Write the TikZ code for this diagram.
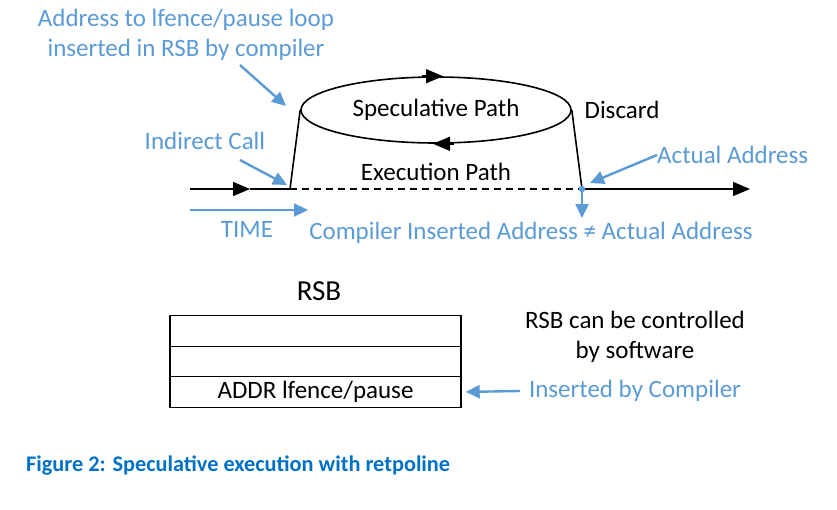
\documentclass[tikz,border=0pt]{standalone}
\usepackage{fontspec}
\setmainfont{Carlito}
\usetikzlibrary{arrows.meta,shapes.geometric}
\definecolor{noteblue}{RGB}{91,155,213}
\definecolor{capblue}{RGB}{0,113,197}
\begin{document}
\begin{tikzpicture}[x=1pt,y=-1pt]
	\tikzstyle{txt}=[font=\fontsize{25}{30}\selectfont,inner sep=0pt]
	\tikzstyle{note}=[txt,text=noteblue]
	\tikzstyle{pointer}=[noteblue,line width=2.4pt,-{Triangle[length=14pt,width=13pt]}]
	\tikzstyle{flow}=[line width=1.6pt]
	\tikzstyle{tip}=[flow,-{Triangle[length=17pt,width=14pt]}]
	\tikzstyle{slot}=[draw,line width=1.4pt,minimum width=291pt,minimum height=30.5pt,inner sep=0pt]
	\useasboundingbox (0,0) rectangle (837,509);
	% time line
	\coordinate (start) at (190,189);
	\coordinate (midarrow) at (250,189);
	\coordinate (call) at (290,189);
	\coordinate (ret) at (582,189);
	\coordinate (finish) at (750,189);
	\node (spec) at (436,110) [ellipse,draw,line width=1.6pt,minimum width=270pt,minimum height=66pt] {};
	\node at (spec.center) [txt] {Speculative Path};
	\draw [tip] (start) -- (midarrow);
	\draw [flow] (midarrow) -- (call);
	\draw [flow] (call) -- (spec.west);
	\draw [flow,dashed,dash pattern=on 7pt off 5pt] (call) -- (ret);
	\draw [flow] (spec.east) -- (ret);
	\draw [tip] (ret) -- (finish);
	\draw [tip] ([xshift=-14pt]spec.north) -- ([xshift=7pt]spec.north);
	\draw [tip] ([xshift=18pt]spec.south) -- ([xshift=-3pt]spec.south);
	\node (exec) at (436,172) [txt] {Execution Path};
	\node (discard) at (622,110) [txt] {Discard};
	% annotations
	\node (addr) at (186,35) [note,align=center] {Address to lfence/pause loop\\inserted in RSB by compiler};
	\coordinate (addrfrom) at (240,65);
	\coordinate (addrto) at (286,106);
	\draw [pointer] (addrfrom) -- (addrto);
	\node (indirect) at (205,141) [note] {Indirect Call};
	\coordinate (indfrom) at (240,160);
	\coordinate (indto) at (287,185);
	\draw [pointer] (indfrom) -- (indto);
	\node (actual) at (657,155) [note,anchor=west] {Actual Address};
	\coordinate (actto) at (590,183);
	\draw [pointer] (actual.west) -- (actto);
	\fill [noteblue] (ret) circle (3.2pt);
	\coordinate (down) at (582,218);
	\draw [pointer] (ret) -- (down);
	\node (neq) at (531,233) [note] {Compiler Inserted Address ≠ Actual Address};
	\coordinate (timefrom) at (190,210);
	\coordinate (timeto) at (308,210);
	\draw [pointer] (timefrom) -- (timeto);
	\node (time) at (247,229) [note] {TIME};
	% RSB
	\node (rsb) at (319,291) [txt,font=\fontsize{29}{32}\selectfont] {RSB};
	\node (slot1) at (315.5,331) [slot] {};
	\node (slot2) at (315.5,361.5) [slot] {};
	\node (slot3) at (315.5,392) [slot,txt,draw] {ADDR lfence/pause};
	\node (soft) at (635,337) [txt,align=center] {RSB can be controlled\\by software};
	\node (byc) at (635,391) [note] {Inserted by Compiler};
	\draw [pointer,shorten >=4pt] (byc.west) ++(-9pt,0) coordinate (bycfrom) -- (slot3.east);
	\node (caption) at (26,466) [anchor=west,inner sep=0pt,text=capblue,font=\bfseries\fontsize{22.3}{26}\selectfont] {Figure 2: Speculative execution with retpoline};
\end{tikzpicture}
\end{document}
